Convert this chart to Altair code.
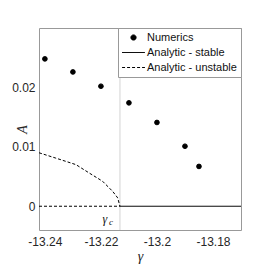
import altair as alt
import pandas as pd

# Numerics (points)
num_g = [-13.24, -13.23, -13.22, -13.21, -13.20, -13.19, -13.185]
num_A = [0.0248, 0.0226, 0.0202, 0.0174, 0.0141, 0.0101, 0.0067]

# Analytic - unstable branch (dashed curve)
unst_g = [-13.2421, -13.2361, -13.2289, -13.2242, -13.2194, -13.2158, -13.2140, -13.2135, -13.2132]
unst_A = [0.0090, 0.0081, 0.0070, 0.0056, 0.0042, 0.0025, 0.0014, 0.0005, 0.0]

# Zero lines
zero_unst_g = [-13.2421, -13.2132]
zero_st_g = [-13.2132, -13.17]

gamma_c = -13.2132
x_ticks = [-13.24, -13.22, -13.2, -13.18]
y_ticks = [0, 0.01, 0.02]
series = ["Numerics", "Analytic - stable", "Analytic - unstable"]

line_rows = []
for g, a in zip(unst_g, unst_A):
    line_rows.append({"g": g, "A": a, "series": "Analytic - unstable", "seg": "curve"})
for g in zero_unst_g:
    line_rows.append({"g": g, "A": 0.0, "series": "Analytic - unstable", "seg": "zero_u"})
for g in zero_st_g:
    line_rows.append({"g": g, "A": 0.0, "series": "Analytic - stable", "seg": "zero_s"})
lines_df = pd.DataFrame(line_rows)
pts_df = pd.DataFrame({"g": num_g, "A": num_A, "series": ["Numerics"] * len(num_g)})

xscale = alt.Scale(domain=[-13.2421, -13.17], nice=False, zero=False)
yscale = alt.Scale(domain=[-0.004, 0.030], nice=False, zero=False)

xenc = alt.X("g:Q", scale=xscale, axis=alt.Axis(
    values=x_ticks, labelExpr="toString(datum.value)", title="γ",
    titleFont="Liberation Serif", titleFontStyle="italic", titleFontWeight="normal",
    titleFontSize=14, titlePadding=2, tickSize=0, labelPadding=6))
yenc = alt.Y("A:Q", scale=yscale, axis=alt.Axis(
    values=y_ticks, labelExpr="toString(datum.value)", title="A",
    titleFont="Liberation Serif", titleFontStyle="italic", titleFontWeight="normal",
    titleFontSize=14, titleX=-17, titleY=101, titleBaseline="middle", titleAlign="center",
    tickSize=0, labelPadding=4))

PATH_LINE = "M-4.4,0L4.4,0"
legend = alt.Legend(title=None, orient="top-right", offset=0, padding=4,
                    strokeColor="#999999", fillColor="white",
                    labelFont="Liberation Sans", labelFontSize=11, labelColor="#111111",
                    symbolStrokeWidth=1, symbolSize=27, symbolOffset=6,
                    labelOffset=8, rowPadding=3)

shape_scale = alt.Scale(domain=series, range=["circle", PATH_LINE, PATH_LINE])
dash_scale = alt.Scale(domain=series, range=[[1, 0], [1, 0], [3, 2]])
stroke_scale = alt.Scale(domain=series, range=["black", "black", "black"])

vline = alt.Chart(pd.DataFrame({"g": [gamma_c]})).mark_rule(
    color="#d4d4d4", strokeWidth=1).encode(x=alt.X("g:Q", scale=xscale))

lines = alt.Chart(lines_df).mark_line(strokeWidth=1, clip=True).encode(
    x=xenc, y=yenc,
    stroke=alt.Stroke("series:N", scale=stroke_scale, legend=legend),
    strokeDash=alt.StrokeDash("series:N", scale=dash_scale, legend=legend),
    detail="seg:N",
)

points = alt.Chart(pts_df).mark_point(filled=False, fill="black", fillOpacity=1,
                                      strokeWidth=1, size=22, opacity=1).encode(
    x=alt.X("g:Q", scale=xscale), y=alt.Y("A:Q", scale=yscale),
    stroke=alt.Stroke("series:N", scale=stroke_scale, legend=legend),
    shape=alt.Shape("series:N", scale=shape_scale, legend=legend),
)

lab_g = alt.Chart(pd.DataFrame({"g": [gamma_c], "A": [-0.0022], "t": ["γ"]})).mark_text(
    font="Liberation Serif", fontStyle="italic", fontSize=12, dx=-15, color="#111111").encode(
    x=alt.X("g:Q", scale=xscale), y=alt.Y("A:Q", scale=yscale), text="t:N")
lab_c = alt.Chart(pd.DataFrame({"g": [gamma_c], "A": [-0.0022], "t": ["c"]})).mark_text(
    font="Liberation Serif", fontStyle="italic", fontSize=9, dx=-9, dy=3, color="#111111").encode(
    x=alt.X("g:Q", scale=xscale), y=alt.Y("A:Q", scale=yscale), text="t:N")

chart = alt.layer(vline, lines, points, lab_g, lab_c).properties(
    width=202, height=202, autosize="none",
    padding={"left": 31, "top": 20, "right": 25, "bottom": 36},
).configure_view(stroke="#999999", strokeWidth=1).configure_axis(
    grid=False, domain=False, labelFont="Liberation Sans", labelFontSize=12,
    labelColor="#262626", titleColor="#262626",
).configure_axisY(titleAngle=-90)

chart.save("out.html", embed_options={"renderer": "svg", "actions": False})
